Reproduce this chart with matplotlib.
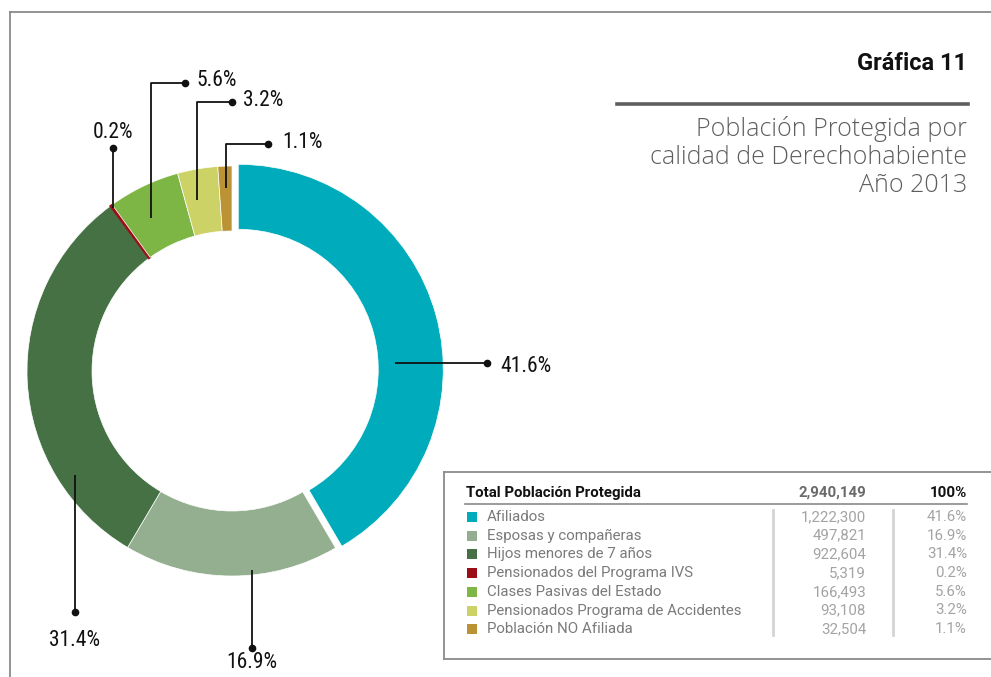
import matplotlib
matplotlib.use("Agg")
import matplotlib.pyplot as plt

# data
categories = ["Afiliados", "Esposas y compañeras", "Hijos menores de 7 años",
              "Pensionados del Programa IVS", "Clases Pasivas del Estado",
              "Pensionados Programa de Accidentes", "Población NO Afiliada"]
counts = [1222300, 497821, 922604, 5319, 166493, 93108, 32504]
pct_labels = ["41.6%", "16.9%", "31.4%", "0.2%", "5.6%", "3.2%", "1.1%"]
total_label = "2,940,149"
colors = ["#00acbb", "#94af8f", "#467145", "#9b0e16", "#7eb645", "#cdd267", "#bb9234"]

W, H = 991, 677
INK, GREY, LIGHT = "#111111", "#7a7a7a", "#d4d4d4"
NARROW = ["Roboto Condensed", "DejaVu Sans"]
SANS = ["Roboto", "DejaVu Sans"]
WIDE = ["Open Sans", "DejaVu Sans"]

fig = plt.figure(figsize=(W / 100, H / 100), dpi=100)
ax = fig.add_axes([0, 0, 1, 1])

def Y(y):
    return H - y

# donut (explode is in data units = pixels here)
cx, cy, R = 232, 371, 205
explode = [6.5, 0, 0, 0, 0, 0, 0]
wedges, _ = ax.pie(counts, colors=colors, startangle=90, counterclock=False,
                   center=(cx, Y(cy)), radius=R, explode=explode, frame=True,
                   wedgeprops=dict(width=65, edgecolor="white", linewidth=0.5))
wedges[3].set_edgecolor(colors[3])
wedges[3].set_linewidth(1.3)
ax.set_xlim(0, W)
ax.set_ylim(0, H)
ax.set_aspect("auto")
ax.axis("off")

# outer frame (top + left)
ax.plot([10, W], [Y(12), Y(12)], color="#8a8a8a", lw=1.3)
ax.plot([10, 10], [Y(12), 0], color="#8a8a8a", lw=1.3)

# leader lines: path points, text position, alignment (pixels)
leaders = [
    ([(395, 363), (487, 363)], (500, 367), "left"),
    ([(252, 570), (252, 648)], (252, 663), "center"),
    ([(75, 475), (75, 612)], (75, 640), "center"),
    ([(113, 208), (113, 148)], (113, 132), "center"),
    ([(151, 218), (151, 83), (185, 83)], (196, 80), "left"),
    ([(197, 200), (197, 102), (232, 102)], (243, 100), "left"),
    ([(226, 188), (226, 144), (268, 144)], (282, 142), "left"),
]
for (pts, (tx, ty), ha), lab in zip(leaders, pct_labels):
    xs = [p[0] for p in pts]
    ys = [Y(p[1]) for p in pts]
    ax.plot(xs, ys, color=INK, lw=1.3, solid_capstyle="butt", zorder=4)
    ax.plot(xs[-1], ys[-1], "o", color=INK, ms=4.5, zorder=5)
    ax.text(tx, Y(ty), lab, ha=ha, va="center", fontsize=15.5,
            family=NARROW, color=INK)

# title block
ax.text(967, Y(64), "Gráfica 11", ha="right", va="center", fontsize=17,
        fontweight="bold", family=SANS, color=INK)
ax.plot([617, 968], [Y(104), Y(104)], color="#5f5f5f", lw=2.6)
for i, line in enumerate(["Población Protegida por",
                          "calidad de Derechohabiente", "Año 2013"]):
    ax.text(967, Y(129 + i * 28.5), line, ha="right", va="center",
            fontsize=18, fontweight="light", family=WIDE, color="#5e5e5e")

# legend table
ax.plot([444, W], [Y(472), Y(472)], color="#8a8a8a", lw=1.3)
ax.plot([444, W], [Y(659), Y(659)], color="#8a8a8a", lw=1.3)
ax.plot([444, 444], [Y(472), Y(659)], color="#8a8a8a", lw=1.3)

ax.text(466, Y(493), "Total Población Protegida", ha="left", va="center",
        fontsize=10.8, fontweight="bold", family=SANS, color=INK)
ax.text(866, Y(493), total_label, ha="right", va="center", fontsize=10.8,
        fontweight="bold", family=SANS, color="#6a6a6a")
ax.text(967, Y(493), "100%", ha="right", va="center", fontsize=10.8,
        fontweight="bold", family=SANS, color=INK)
ax.plot([465, 967], [Y(504), Y(504)], color="#8a8a8a", lw=1.2)
ax.plot([773, 773], [Y(510), Y(635)], color=LIGHT, lw=2)
ax.plot([893, 893], [Y(510), Y(635)], color=LIGHT, lw=2)

for i, (cat, n, p, c) in enumerate(zip(categories, counts, pct_labels, colors)):
    y = 517 + i * 18.7
    ax.add_patch(plt.Rectangle((467, Y(y) - 5), 10, 10, color=c, lw=0))
    ax.text(487, Y(y), cat, ha="left", va="center", fontsize=10.8,
            family=SANS, color=GREY)
    ax.text(866, Y(y), f"{n:,}", ha="right", va="center", fontsize=10.8,
            family=SANS, color="#a3a3a3")
    ax.text(967, Y(y), p, ha="right", va="center", fontsize=10.8,
            family=SANS, color="#a3a3a3")

fig.savefig("out.png", dpi=100, facecolor="white")
